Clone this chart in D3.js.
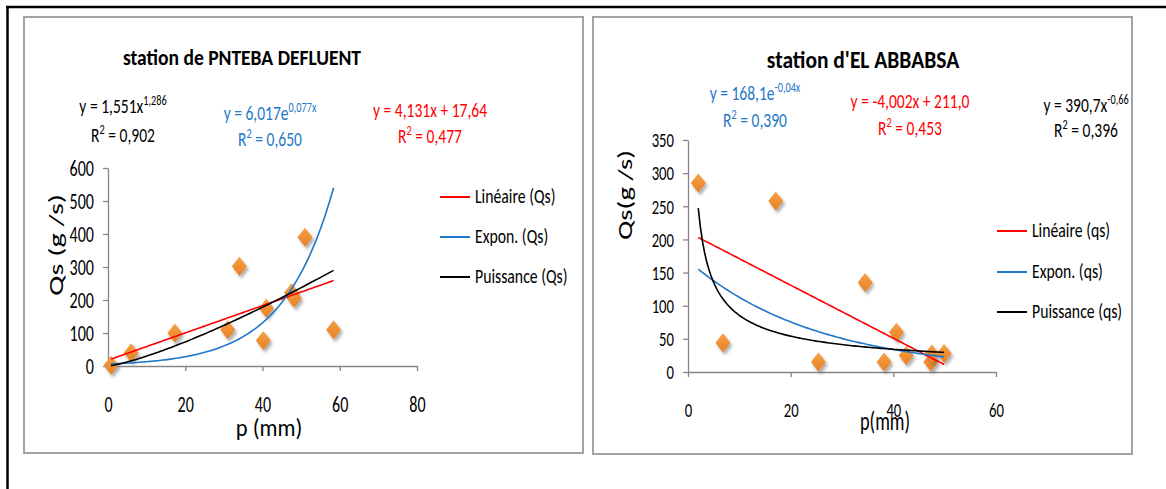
<!DOCTYPE html>
<html>
<head>
<meta charset="utf-8">
<script src="https://cdn.jsdelivr.net/npm/d3@7"></script>
<style>
  body { margin: 0; background: #fff; }
  svg text { font-family: "Carlito", "Liberation Sans Narrow", "DejaVu Sans Condensed", "Open Sans", sans-serif; }
</style>
</head>
<body>
<svg id="chart" width="1166" height="489"></svg>
<script>
// station de PNTEBA DEFLUENT : p (mm) vs Qs (g/s)
var pntebaP  = [0.8, 6, 17.3, 31, 34, 40.2, 41, 47.5, 48.2, 51, 58.4];
var pntebaQs = [2, 40, 100, 110, 302, 77, 175, 222, 205, 390, 110];
var pntebaLin = [4.131, 17.64];   // y = a x + b
var pntebaExp = [6.017, 0.077];   // y = a e^(b x)
var pntebaPow = [1.551, 1.286];   // y = a x^b

// station d'EL ABBABSA : p (mm) vs qs (g/s)
var abbabsaP  = [2, 6.8, 17.1, 25.4, 34.5, 38.2, 40.6, 42.5, 47.3, 47.5, 49.9];
var abbabsaQs = [285, 44, 258, 15, 135, 15, 60, 25, 15, 27, 28];
var abbabsaLin = [-4.002, 211.0];
var abbabsaExp = [168.1, -0.04];
var abbabsaPow = [390.7, -0.66];

var pntebaXTicks = [0, 20, 40, 60, 80];
var pntebaYTicks = [0, 100, 200, 300, 400, 500, 600];
var abbabsaXTicks = [0, 20, 40, 60];
var abbabsaYTicks = [0, 50, 100, 150, 200, 250, 300, 350];

var RED = "#ff0000", BLUE = "#1f78c8", BLACK = "#000000";

var svg = d3.select("#chart");

// drop shadow for the diamonds
var defs = svg.append("defs");
var f = defs.append("filter").attr("id", "shadow")
    .attr("x", "-50%").attr("y", "-50%").attr("width", "200%").attr("height", "200%");
f.append("feDropShadow").attr("dx", 2).attr("dy", 3).attr("stdDeviation", 1.8)
    .attr("flood-color", "#555").attr("flood-opacity", 0.45);
var g = defs.append("linearGradient").attr("id", "orange").attr("x1", 0).attr("y1", 0).attr("x2", 0).attr("y2", 1);
g.append("stop").attr("offset", "0%").attr("stop-color", "#f6a04a");
g.append("stop").attr("offset", "100%").attr("stop-color", "#e8801f");

// outer black frame (top and left only)
svg.append("line").attr("x1", 6).attr("x2", 1166).attr("y1", 7).attr("y2", 7)
    .attr("stroke", "#000").attr("stroke-width", 2.5);
svg.append("line").attr("x1", 7.5).attr("x2", 7.5).attr("y1", 6).attr("y2", 489)
    .attr("stroke", "#000").attr("stroke-width", 2.5);

// the picture is stretched vertically, so text is drawn tall and squeezed in x
function stext(sel, x, y, size, k, rot) {
    return sel.append("text").attr("x", 0).attr("y", 0)
        .style("font-size", size + "px")
        .attr("transform", "translate(" + x + "," + y + ")" + (rot ? " rotate(" + rot + ")" : "") + " scale(" + k + ",1)");
}

function eqText(sel, x, y, color, parts) {
    var size = 21;
    var t = stext(sel, x, y, size, 0.74).attr("text-anchor", "middle").attr("fill", color);
    parts.forEach(function (p) {
        var s = t.append("tspan").text(p[0]);
        if (p[1] == "sup") {
            s.attr("dy", -size * 0.36).style("font-size", (size * 0.66) + "px");
        } else if (p[1] == "down") {
            s.attr("dy", size * 0.36);
        }
    });
    return t;
}

function drawChart(cfg) {
    var root = svg.append("g");

    root.append("rect")
        .attr("x", cfg.box[0]).attr("y", cfg.box[1])
        .attr("width", cfg.box[2]).attr("height", cfg.box[3])
        .attr("fill", "#fff").attr("stroke", "#a3a3a3").attr("stroke-width", 2);

    stext(root, cfg.titleX, cfg.titleY, cfg.titleSize[0], cfg.titleSize[1])
        .text(cfg.title)
        .attr("text-anchor", "middle").attr("font-weight", "700");

    var x = d3.scaleLinear().domain(cfg.xDomain).range(cfg.xRange);
    var y = d3.scaleLinear().domain(cfg.yDomain).range(cfg.yRange);

    var xAxis = root.append("g")
        .attr("transform", "translate(0," + cfg.yRange[0] + ")")
        .call(d3.axisBottom(x).tickValues(cfg.xTicks).tickSize(5).tickPadding(25).tickSizeOuter(0));
    var yAxis = root.append("g")
        .attr("transform", "translate(" + cfg.xRange[0] + ",0)")
        .call(d3.axisLeft(y).tickValues(cfg.yTicks).tickSize(5).tickPadding(9).tickSizeOuter(0));
    [xAxis, yAxis].forEach(function (a) {
        a.select(".domain").attr("stroke", "#868686").attr("stroke-width", 1.3);
        a.selectAll(".tick line").attr("stroke", "#868686").attr("stroke-width", 1.3);
        a.selectAll(".tick text").attr("fill", "#000")
            .style("font-size", cfg.tickSize[0] + "px");
    });
    xAxis.selectAll(".tick text").attr("transform", "scale(" + cfg.tickSize[1] + ",1)");
    yAxis.selectAll(".tick text").each(function () {
        var t = d3.select(this), x0 = +t.attr("x");
        t.attr("x", 0).attr("transform", "translate(" + x0 + ",0) scale(" + cfg.tickSize[1] + ",1)");
    });

    // axis titles
    stext(root, cfg.xLabelPos[0], cfg.xLabelPos[1], cfg.xLabelSize[0], cfg.xLabelSize[1])
        .text(cfg.xLabel).attr("text-anchor", "middle");
    stext(root, cfg.yLabelPos[0], cfg.yLabelPos[1], 21, cfg.yLabelK, -90)
        .text(cfg.yLabel).attr("text-anchor", "middle");

    // data diamonds
    var pts = cfg.p.map(function (d, i) { return [d, cfg.q[i]]; });
    root.append("g").selectAll("path").data(pts).enter().append("path")
        .attr("d", "M0,-9.5 L7.5,0 L0,9.5 L-7.5,0 Z")
        .attr("transform", function (d) { return "translate(" + x(d[0]) + "," + y(d[1]) + ")"; })
        .attr("fill", "url(#orange)")
        .attr("filter", "url(#shadow)");

    // trend lines over the range of p
    var lo = d3.min(cfg.p), hi = d3.max(cfg.p);
    var xs = d3.range(0, 121).map(function (i) { return lo + (hi - lo) * i / 120; });
    var trends = [
        { c: RED,   fn: function (v) { return cfg.lin[0] * v + cfg.lin[1]; } },
        { c: BLUE,  fn: function (v) { return cfg.exp[0] * Math.exp(cfg.exp[1] * v); } },
        { c: BLACK, fn: function (v) { return cfg.pow[0] * Math.pow(v, cfg.pow[1]); } }
    ];
    var line = d3.line().x(function (d) { return x(d[0]); }).y(function (d) { return y(d[1]); });
    trends.forEach(function (t) {
        root.append("path")
            .datum(xs.map(function (v) { return [v, t.fn(v)]; }))
            .attr("d", line).attr("fill", "none")
            .attr("stroke", t.c).attr("stroke-width", 1.6);
    });

    // legend
    var lg = root.append("g");
    cfg.legend.forEach(function (txt, i) {
        var ly = cfg.legendY[i];
        lg.append("line").attr("x1", cfg.legendX).attr("x2", cfg.legendX + 30)
            .attr("y1", ly).attr("y2", ly)
            .attr("stroke", trends[i].c).attr("stroke-width", 2);
        stext(lg, cfg.legendX + 35, ly + 6, 21, 0.75).text(txt);
    });

    // equations
    cfg.eqs.forEach(function (e) {
        eqText(root, e.x, e.y, e.c, e.parts);
        eqText(root, e.x, e.y2, e.c, [["R"], ["2", "sup"], [" = " + e.r2, "down"]]);
    });
}

drawChart({
    box: [24, 17, 559, 436],
    title: "station de PNTEBA DEFLUENT", titleX: 242, titleY: 65, titleSize: [23, 0.85],
    xDomain: [0, 80], xRange: [108, 417], xTicks: pntebaXTicks, tickSize: [22, 0.73],
    yDomain: [0, 600], yRange: [366, 168], yTicks: pntebaYTicks,
    xLabel: "p (mm)", xLabelPos: [269, 436], xLabelSize: [25, 0.9],
    yLabel: "Qs (g /s)", yLabelPos: [63, 245], yLabelK: 1.45,
    p: pntebaP, q: pntebaQs, lin: pntebaLin, exp: pntebaExp, pow: pntebaPow,
    legend: ["Linéaire (Qs)", "Expon. (Qs)", "Puissance (Qs)"],
    legendX: 440, legendY: [197, 237, 277],
    eqs: [
        { c: BLACK, x: 123, y: 113, y2: 142, r2: "0,902", parts: [["y = 1,551x"], ["1,286", "sup"]] },
        { c: BLUE,  x: 270, y: 120, y2: 146, r2: "0,650", parts: [["y = 6,017e"], ["0,077x", "sup"]] },
        { c: RED,   x: 430, y: 117, y2: 143, r2: "0,477", parts: [["y = 4,131x + 17,64"]] }
    ]
});

drawChart({
    box: [593, 17, 539, 437],
    title: "station d'EL ABBABSA", titleX: 863, titleY: 68, titleSize: [25, 0.86],
    xDomain: [0, 60], xRange: [688, 996], xTicks: abbabsaXTicks, tickSize: [21, 0.7],
    yDomain: [0, 350], yRange: [372, 140], yTicks: abbabsaYTicks,
    xLabel: "p(mm)", xLabelPos: [885, 430], xLabelSize: [27, 0.68],
    yLabel: "Qs(g /s)", yLabelPos: [632, 195], yLabelK: 1.37,
    p: abbabsaP, q: abbabsaQs, lin: abbabsaLin, exp: abbabsaExp, pow: abbabsaPow,
    legend: ["Linéaire (qs)", "Expon. (qs)", "Puissance (qs)"],
    legendX: 997, legendY: [231, 272, 312],
    eqs: [
        { c: BLUE,  x: 755, y: 100, y2: 127, r2: "0,390", parts: [["y = 168,1e"], ["-0,04x", "sup"]] },
        { c: RED,   x: 910, y: 108, y2: 135, r2: "0,453", parts: [["y = -4,002x + 211,0"]] },
        { c: BLACK, x: 1086, y: 112, y2: 137, r2: "0,396", parts: [["y = 390,7x"], ["-0,66", "sup"]] }
    ]
});
</script>
</body>
</html>
